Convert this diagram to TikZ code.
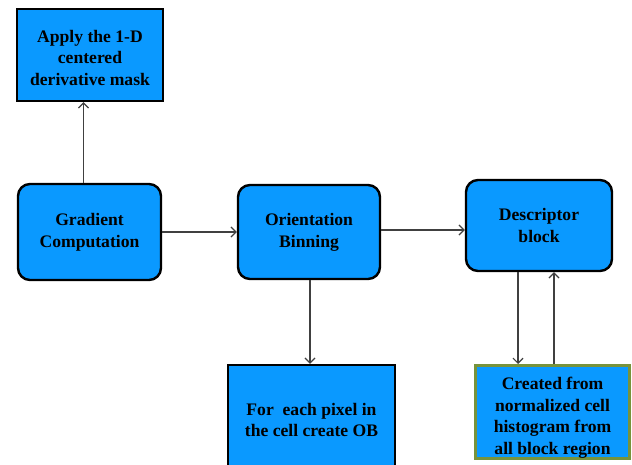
\documentclass[tikz,border=0pt]{standalone}
\usepackage{fontspec}
\setmainfont{Liberation Serif}
\usetikzlibrary{arrows.meta}
\definecolor{boxblue}{HTML}{0A99FF}
\definecolor{boxgreen}{HTML}{77933C}
\definecolor{arrgray}{HTML}{404040}
\tikzset{
  box/.style={draw=black, line width=2.4pt, fill=boxblue, align=center,
    font=\bfseries\fontsize{17.6}{21.7}\selectfont, inner sep=0pt},
  rbox/.style={box, rounded corners=12pt},
  gbox/.style={box, draw=boxgreen, line width=3pt},
  arr/.style={draw=arrgray, line width=1.2pt, -{Straight Barb[length=5pt,width=10pt]}}
}
\begin{document}
\begin{tikzpicture}[x=1pt,y=-1pt]
\useasboundingbox (0,0) rectangle (632,465);
\clip (0,0) rectangle (632,465);
\node[box, minimum width=146pt, minimum height=92pt] (apply) at (90,55) {\rule{0pt}{18pt}Apply the 1-D\\centered\\derivative mask};
\node[rbox, minimum width=143pt, minimum height=96pt] (grad) at (89.5,232) {Gradient\\Computation};
\node[rbox, minimum width=142pt, minimum height=94pt] (orient) at (309,232) {Orientation\\Binning};
\node[rbox, minimum width=146pt, minimum height=91pt] (desc) at (539,225.5) {Descriptor\\block};
\node[box, minimum width=167pt, minimum height=110pt] (fe) at (311.5,420) {For~ each pixel in\\the cell create OB};
\node[gbox, minimum width=154pt, minimum height=93pt] (cr) at (552.5,412) {\rule{0pt}{24pt}Created from\\normalized cell\\histogram from\\all block region};
\draw[arr] ([xshift=-6pt]grad.north) -- ([xshift=-6pt]grad.north |- apply.south);
\draw[arr] (grad.east) -- (orient.west);
\draw[arr] ([yshift=2pt]orient.east) -- ([yshift=2pt]orient.east -| desc.west);
\draw[arr] ([xshift=1pt]orient.south) -- ([xshift=1pt]orient.south |- fe.north);
\draw[arr] ([xshift=-21pt]desc.south) -- ([xshift=-21pt]desc.south |- cr.north);
\draw[arr] ([xshift=15pt]desc.south |- cr.north) -- ([xshift=15pt]desc.south);
\end{tikzpicture}
\end{document}
